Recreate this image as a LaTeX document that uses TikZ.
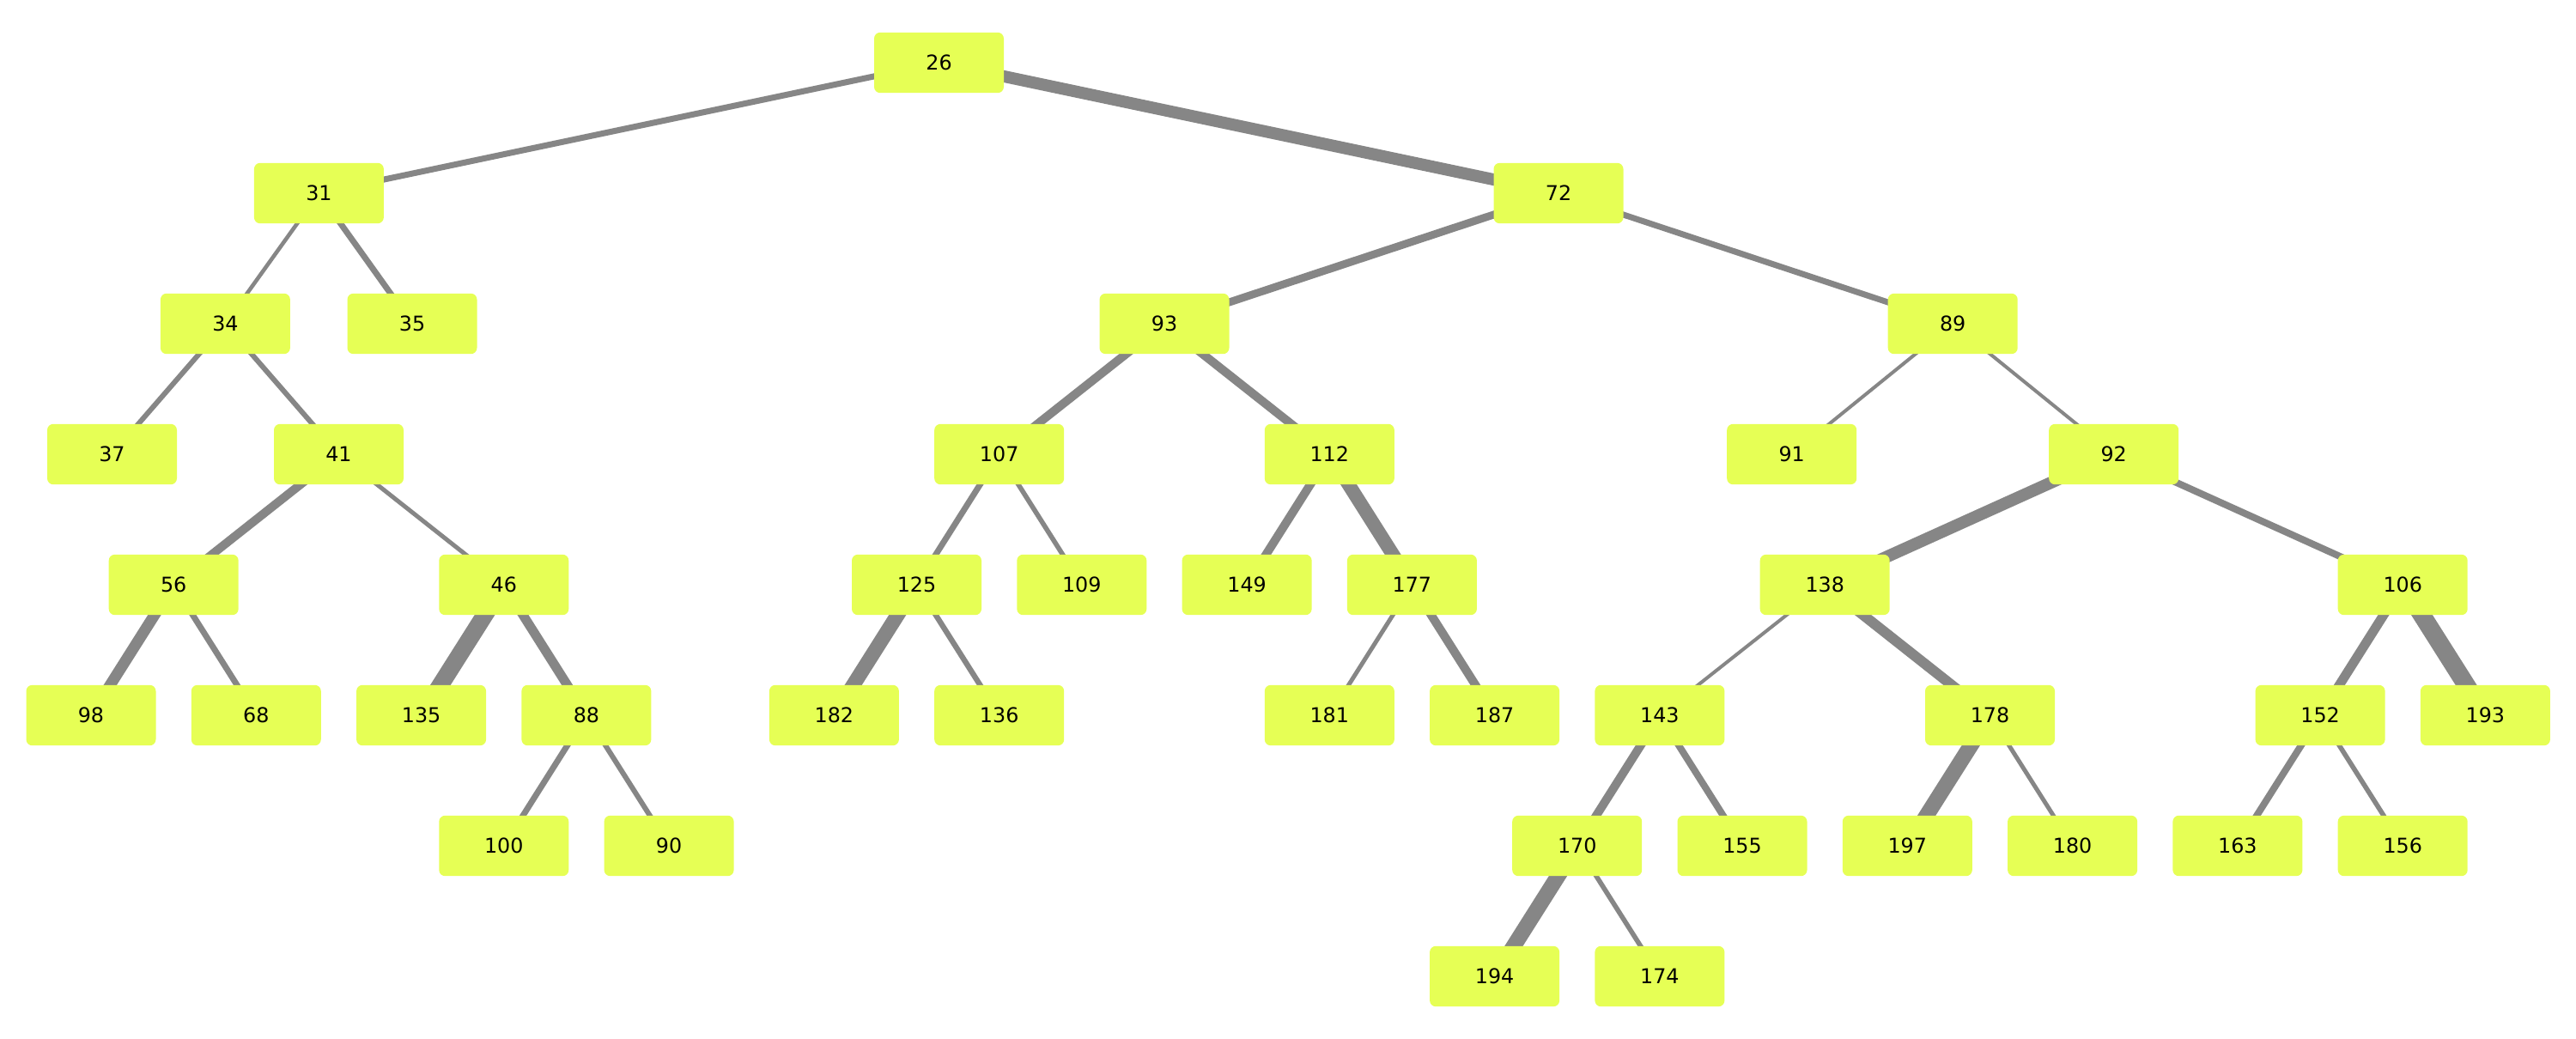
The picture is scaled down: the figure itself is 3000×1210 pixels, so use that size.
\documentclass[tikz,border=0pt]{standalone}
\usepackage{fontspec}
\setmainfont{DejaVu Sans}
\definecolor{nodefill}{RGB}{230,255,85}
\definecolor{edgegray}{RGB}{134,134,134}
\pgfdeclarelayer{bg}
\pgfsetlayers{bg,main}
\begin{document}
\begin{tikzpicture}[x=0.25pt,y=-0.25pt,
  tn/.style={rectangle, rounded corners=1.75pt, fill=nodefill, minimum width=37.75pt, minimum height=17.6pt, inner sep=0pt, font=\fontsize{5.95}{7}\selectfont},
  edge/.style={draw=edgegray, line cap=round}]
\useasboundingbox (0,0) rectangle (3000,1210);
% row 0
\node[tn] (n26) at (1093.5,73) {26};
% row 1
\node[tn] (n31) at (371.4,225) {31};
\node[tn] (n72) at (1815,225) {72};
% row 2
\node[tn] (n34) at (262.4,377) {34};
\node[tn] (n35) at (480,377) {35};
\node[tn] (n93) at (1356,377) {93};
\node[tn] (n89) at (2274.2,377) {89};
% row 3
\node[tn] (n37) at (130.5,529) {37};
\node[tn] (n41) at (394.5,529) {41};
\node[tn] (n107) at (1163.7,529) {107};
\node[tn] (n112) at (1548.3,529) {112};
\node[tn] (n91) at (2086.7,529) {91};
\node[tn] (n92) at (2461.7,529) {92};
% row 4
\node[tn] (n56) at (202.2,681) {56};
\node[tn] (n46) at (586.8,681) {46};
\node[tn] (n125) at (1067.5,681) {125};
\node[tn] (n109) at (1259.8,681) {109};
\node[tn] (n149) at (1452.1,681) {149};
\node[tn] (n177) at (1644.4,681) {177};
\node[tn] (n138) at (2125.2,681) {138};
\node[tn] (n106) at (2798.2,681) {106};
% row 5
\node[tn] (n98) at (106,833) {98};
\node[tn] (n68) at (298.3,833) {68};
\node[tn] (n135) at (490.6,833) {135};
\node[tn] (n88) at (682.9,833) {88};
\node[tn] (n182) at (971.4,833) {182};
\node[tn] (n136) at (1163.7,833) {136};
\node[tn] (n181) at (1548.3,833) {181};
\node[tn] (n187) at (1740.6,833) {187};
\node[tn] (n143) at (1932.9,833) {143};
\node[tn] (n178) at (2317.5,833) {178};
\node[tn] (n152) at (2702.1,833) {152};
\node[tn] (n193) at (2894.4,833) {193};
% row 6
\node[tn] (n100) at (586.8,985) {100};
\node[tn] (n90) at (779.1,985) {90};
\node[tn] (n170) at (1836.7,985) {170};
\node[tn] (n155) at (2029,985) {155};
\node[tn] (n197) at (2221.3,985) {197};
\node[tn] (n180) at (2413.6,985) {180};
\node[tn] (n163) at (2605.9,985) {163};
\node[tn] (n156) at (2798.2,985) {156};
% row 7
\node[tn] (n194) at (1740.6,1137) {194};
\node[tn] (n174) at (1932.9,1137) {174};
\begin{pgfonlayer}{bg}
\draw[edge, line width=1.75pt] (n26.center) -- (n31.center);
\draw[edge, line width=3.5pt] (n26.center) -- (n72.center);
\draw[edge, line width=1.15pt] (n31.center) -- (n34.center);
\draw[edge, line width=1.75pt] (n31.center) -- (n35.center);
\draw[edge, line width=1.5pt] (n34.center) -- (n37.center);
\draw[edge, line width=1.5pt] (n34.center) -- (n41.center);
\draw[edge, line width=2.5pt] (n41.center) -- (n56.center);
\draw[edge, line width=1.25pt] (n41.center) -- (n46.center);
\draw[edge, line width=3.25pt] (n56.center) -- (n98.center);
\draw[edge, line width=1.75pt] (n56.center) -- (n68.center);
\draw[edge, line width=5pt] (n46.center) -- (n135.center);
\draw[edge, line width=2.75pt] (n46.center) -- (n88.center);
\draw[edge, line width=1.75pt] (n88.center) -- (n100.center);
\draw[edge, line width=1.5pt] (n88.center) -- (n90.center);
\draw[edge, line width=2.25pt] (n72.center) -- (n93.center);
\draw[edge, line width=1.75pt] (n72.center) -- (n89.center);
\draw[edge, line width=2.5pt] (n93.center) -- (n107.center);
\draw[edge, line width=2.5pt] (n93.center) -- (n112.center);
\draw[edge, line width=1.75pt] (n107.center) -- (n125.center);
\draw[edge, line width=1.4pt] (n107.center) -- (n109.center);
\draw[edge, line width=4.25pt] (n125.center) -- (n182.center);
\draw[edge, line width=1.6pt] (n125.center) -- (n136.center);
\draw[edge, line width=2.5pt] (n112.center) -- (n149.center);
\draw[edge, line width=4pt] (n112.center) -- (n177.center);
\draw[edge, line width=1.25pt] (n177.center) -- (n181.center);
\draw[edge, line width=2.5pt] (n177.center) -- (n187.center);
\draw[edge, line width=1pt] (n89.center) -- (n91.center);
\draw[edge, line width=1pt] (n89.center) -- (n92.center);
\draw[edge, line width=3.5pt] (n92.center) -- (n138.center);
\draw[edge, line width=2pt] (n92.center) -- (n106.center);
\draw[edge, line width=1pt] (n138.center) -- (n143.center);
\draw[edge, line width=3pt] (n138.center) -- (n178.center);
\draw[edge, line width=2.5pt] (n143.center) -- (n170.center);
\draw[edge, line width=2pt] (n143.center) -- (n155.center);
\draw[edge, line width=4.5pt] (n170.center) -- (n194.center);
\draw[edge, line width=1.4pt] (n170.center) -- (n174.center);
\draw[edge, line width=4.5pt] (n178.center) -- (n197.center);
\draw[edge, line width=1.25pt] (n178.center) -- (n180.center);
\draw[edge, line width=2.75pt] (n106.center) -- (n152.center);
\draw[edge, line width=5.25pt] (n106.center) -- (n193.center);
\draw[edge, line width=2pt] (n152.center) -- (n163.center);
\draw[edge, line width=1.4pt] (n152.center) -- (n156.center);
\end{pgfonlayer}
\end{tikzpicture}
\end{document}
